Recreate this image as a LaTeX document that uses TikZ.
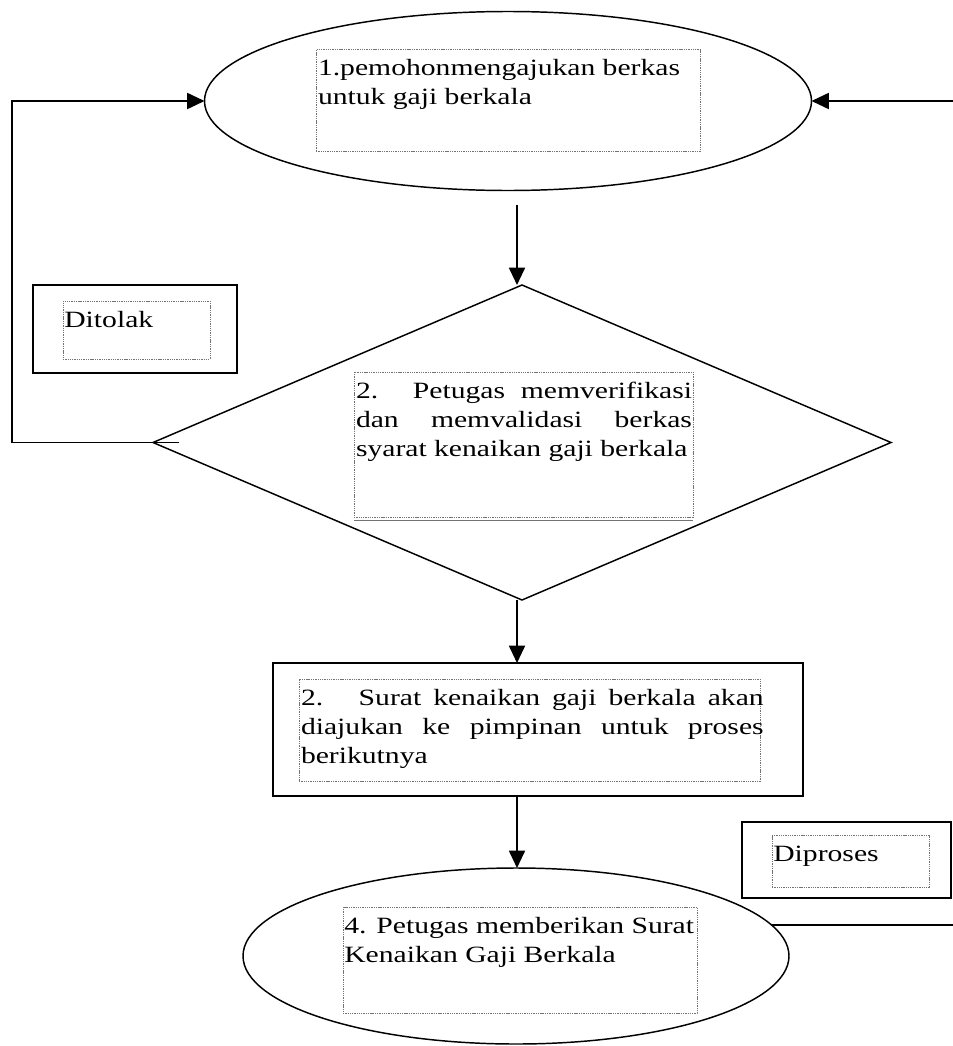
\documentclass[tikz,border=0pt]{standalone}
\usepackage{fontspec}
\setmainfont{Liberation Serif}[FakeStretch=1.27]
\usetikzlibrary{shapes.geometric,arrows.meta,calc}
\newcommand{\boxfont}{\fontsize{17.5}{22}\selectfont}
\newcommand{\firstline}{\rule{0pt}{19.5pt}}
\begin{document}
\begin{tikzpicture}[x=0.75pt,y=-0.75pt,
  conn/.style={line width=1.4pt,-{Triangle[length=13pt,width=12pt]}},
  plainline/.style={line width=1.4pt},
  ellshape/.style={ellipse,draw,line width=1.1pt,inner sep=0,outer sep=0},
  boxshape/.style={rectangle,draw,line width=1.5pt,inner sep=0,outer sep=0},
  dashbox/.style={rectangle,draw=black!55,line width=0.6pt,dash pattern=on 1pt off 0.7pt,inner sep=0,outer sep=0},
  txt/.style={anchor=north west,inner sep=0,outer sep=0,align=left,font=\boxfont}]
\useasboundingbox (0,0) rectangle (953,1046);
\clip (0,0) rectangle (953,1046);
\coordinate (ax) at (517,0);
\coordinate (lx) at (12,0);
\coordinate (rx) at (960,0);

% top ellipse
\node[ellshape,minimum width=455.25pt,minimum height=134.25pt] (e1) at (508,101) {};
\node[dashbox,minimum width=288pt,minimum height=76.5pt] (b1) at (508,100.5) {};
\node[txt] (t1) at ([xshift=1.5pt]b1.north west) {\firstline 1.pemohonmengajukan berkas\\untuk gaji berkala};

% diamond
\node[diamond,draw,line width=1.1pt,inner sep=0,outer sep=0,minimum width=553.5pt,minimum height=236.25pt] (d) at (522,442.5) {};
\node[dashbox,minimum width=254.25pt,minimum height=108.75pt] (b2) at (523.5,444.5) {};
\node[txt] (t2) at ([xshift=1.5pt]b2.north west) {\firstline\makebox[252pt][s]{2. Petugas memverifikasi}\\\makebox[252pt][s]{dan memvalidasi berkas}\\syarat kenaikan gaji berkala};
\draw[black!55,line width=0.8pt] ([yshift=-2.5pt]b2.south west) -- ([yshift=-2.5pt]b2.south east);

% Ditolak
\node[boxshape,minimum width=153pt,minimum height=66pt] (o1) at (135,329) {};
\node[dashbox,minimum width=110.25pt,minimum height=43.5pt] (b3) at (136.5,330) {};
\node[txt] (t3) at ([xshift=1pt]b3.north west) {\firstline Ditolak};

% rectangle
\node[boxshape,minimum width=397.5pt,minimum height=99.75pt] (r) at (538,729.5) {};
\node[dashbox,minimum width=345.75pt,minimum height=76.5pt] (b4) at (529.5,730) {};
\node[txt] (t4) at ([xshift=1.5pt]b4.north west) {\firstline\makebox[347pt][s]{2. \ Surat kenaikan gaji berkala akan}\\\makebox[347pt][s]{diajukan ke pimpinan untuk proses}\\berikutnya};

% Diproses
\node[boxshape,minimum width=156.75pt,minimum height=57pt] (o2) at (846.5,860) {};
\node[dashbox,minimum width=117.75pt,minimum height=39pt] (b5) at (850.5,861) {};
\node[txt] (t5) at ([xshift=1pt]b5.north west) {\firstline Diproses};

% bottom ellipse
\node[ellshape,minimum width=409.5pt,minimum height=132pt] (e2) at (516,956) {};
\node[dashbox,minimum width=265.5pt,minimum height=79.5pt] (b6) at (520,960) {};
\node[txt] (t6) at ([xshift=1pt]b6.north west) {\firstline 4. Petugas memberikan Surat\\Kenaikan Gaji Berkala};

% connectors
\coordinate (s1) at (517,205);
\draw[conn] (s1) -- (d.north -| ax);
\draw[conn] (d.south -| ax) -- (r.north -| ax);
\draw[conn] (r.south -| ax) -- (e2.north -| ax);
\draw[conn] ([xshift=19.5pt]d.west) -- (d.west -| lx) -- (e1.west -| lx) -- (e1.west);
\draw[conn] (e2.7) -- (e2.7 -| rx) -- (e1.east -| rx) -- (e1.east);
\end{tikzpicture}
\end{document}
